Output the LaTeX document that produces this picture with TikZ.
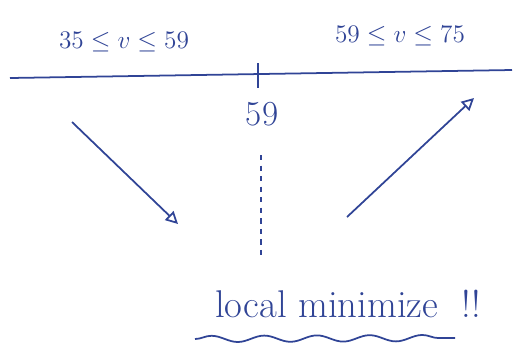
\documentclass[tikz,border=0pt]{standalone}
\usepackage{amsmath}
\usepackage{xcolor}
\usepackage{tikz}
\usetikzlibrary{arrows.meta,positioning,decorations.pathmorphing}
\definecolor{ink}{RGB}{48,68,150}

\begin{document}
\begin{tikzpicture}[x=0.02cm, y=-0.02cm,
scrawl/.style={text=ink, font=\fontsize{20}{24}\selectfont, inner sep=0pt},
small/.style={scrawl, font=\fontsize{15}{18}\selectfont},
axis/.style={draw=ink, line width=1pt},
arrow/.style={-{Triangle[open, length=7pt, width=7pt]}, draw=ink, line width=1pt},
wave/.style={draw=ink, line width=1pt, decorate, decoration={snake, segment length=30pt, amplitude=1.8pt}}
]
\useasboundingbox (0,0) rectangle (514,343);
\node[small] (left) at (124,42) {$35\leq v\leq 59$};
\node[small] (right) at (400,36) {$59\leq v\leq 75$};
\coordinate (start) at (10,78);
\coordinate (end) at (512,70);
\draw[axis] (start) -- (end);
\draw[axis] (258,63) -- (258,88);
\node[scrawl] (min) at (262,114) {59};
\coordinate (la) at (72,122);
\coordinate (lb) at (178,224);
\coordinate (ra) at (347,217);
\coordinate (rb) at (474,98);
\draw[arrow] (la) -- (lb);
\draw[arrow] (ra) -- (rb);
\coordinate (dtop) at (261,155);
\coordinate (dbot) at (261,256);
\draw[axis, dashed] (dtop) -- (dbot);
\node[scrawl, font=\fontsize{22}{26}\selectfont] (note) at (348,304) {local minimize \ !!};
\draw[wave] (195,339) -- (455,338);
\end{tikzpicture}
\end{document}
